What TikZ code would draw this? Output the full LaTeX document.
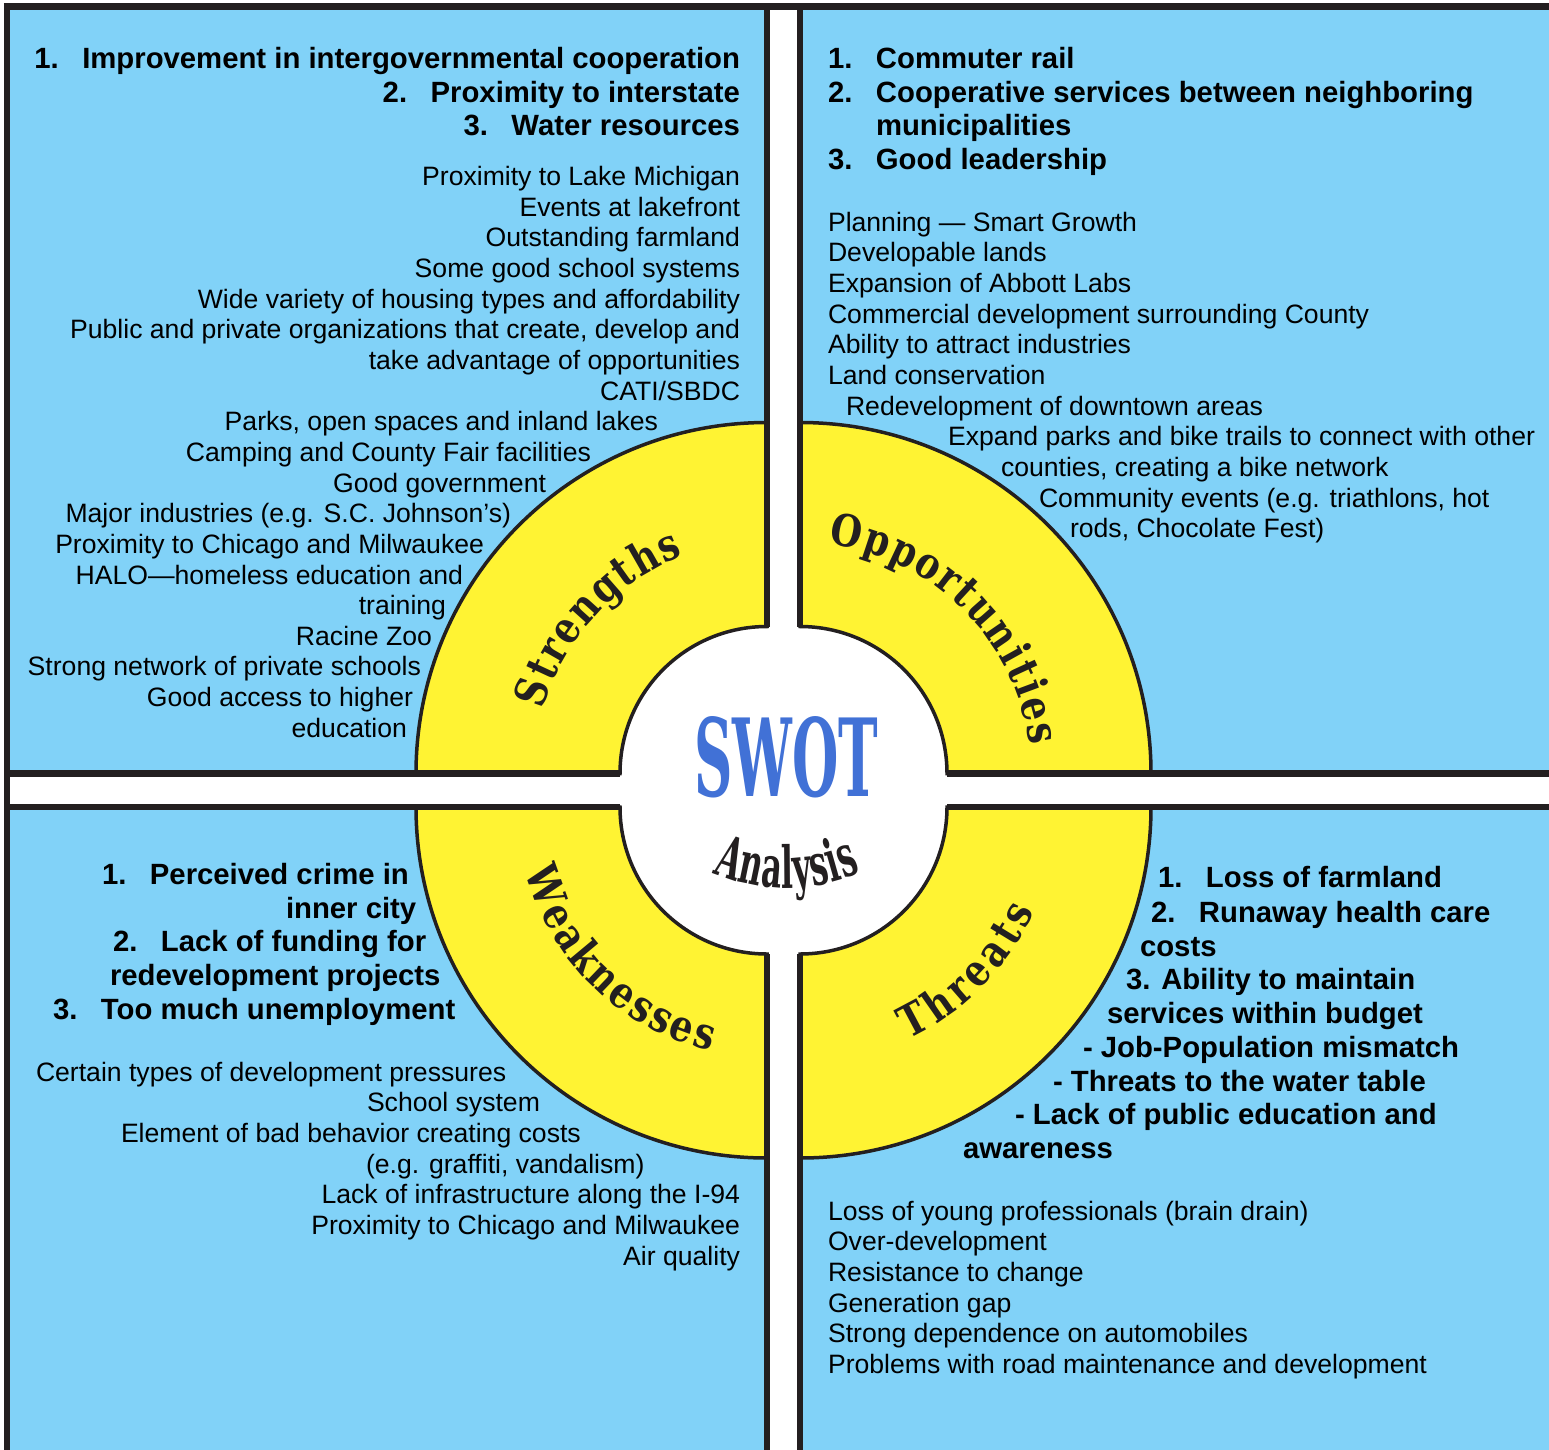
\documentclass[tikz,border=0pt]{standalone}
\usepackage{graphicx}
\usepackage{fontspec}
\setmainfont{Liberation Sans}
\newfontfamily\slabfont[FakeStretch=0.82]{DejaVu Serif}
\newfontfamily\swotfont{DejaVu Serif}
\newfontfamily\anfont[FakeStretch=0.55]{DejaVu Serif}
\usetikzlibrary{decorations.text}
\definecolor{qblue}{RGB}{129,210,248}
\definecolor{ryellow}{RGB}{255,243,51}
\definecolor{swotblue}{RGB}{65,113,214}
\definecolor{ink}{RGB}{35,31,32}
\begin{document}
\begin{tikzpicture}[x=1pt,y=-1pt,
  reg/.style={font=\fontsize{26.6}{30}\selectfont, inner sep=0pt, outer sep=0pt},
  bld/.style={font=\fontsize{29.3}{33}\selectfont\bfseries, inner sep=0pt, outer sep=0pt},
  frameline/.style={line width=6.5pt, draw=ink},
  ring/.style={fill=ryellow, draw=ink, line width=3.5pt},
  qfill/.style={fill=qblue},
  lbl/.style={decorate, decoration={text along path, text color=ink, text align=fit to path}}]
\useasboundingbox (0,0) rectangle (1549,1450);
\clip (0,0) rectangle (1549,1450);
\fill[white] (0,0) rectangle (1549,1450);
% corners
\coordinate (cTL) at (767,773.5);
\coordinate (cTR) at (800,773.5);
\coordinate (cBL) at (767,807);
\coordinate (cBR) at (800,807);
\coordinate (cAn) at (786,700);
% blue quadrants
\fill[qfill] (7,6.5) -- (767,6.5) -- (767,626.5) arc[start angle=270, end angle=180, radius=147] -- (7,773.5) -- cycle;
\fill[qfill] (800,6.5) -- (1560,6.5) -- (1560,773.5) -- (947,773.5) arc[start angle=0, end angle=-90, radius=147] -- cycle;
\fill[qfill] (7,807) -- (620,807) arc[start angle=180, end angle=90, radius=147] -- (767,1460) -- (7,1460) -- cycle;
\fill[qfill] (947,807) -- (1560,807) -- (1560,1460) -- (800,1460) -- (800,954) arc[start angle=90, end angle=0, radius=147] -- cycle;
% yellow quarter rings
\filldraw[ring] (416,773.5) arc[start angle=180, end angle=270, radius=351] -- (767,626.5) arc[start angle=270, end angle=180, radius=147] -- cycle;
\filldraw[ring] (800,422.5) arc[start angle=270, end angle=360, radius=351] -- (947,773.5) arc[start angle=0, end angle=-90, radius=147] -- cycle;
\filldraw[ring] (416,807) arc[start angle=180, end angle=90, radius=351] -- (767,954) arc[start angle=90, end angle=180, radius=147] -- cycle;
\filldraw[ring] (1151,807) arc[start angle=0, end angle=90, radius=351] -- (800,954) arc[start angle=90, end angle=0, radius=147] -- cycle;
% frame lines
\draw[frameline] (3.75,6.5) -- (1560,6.5);
\draw[frameline] (7,3.25) -- (7,1460);
\draw[frameline] (767,6.5) -- (767,626.5);
\draw[frameline] (7,773.5) -- (620,773.5);
\draw[frameline] (800,6.5) -- (800,626.5);
\draw[frameline] (947,773.5) -- (1560,773.5);
\draw[frameline] (7,807) -- (620,807);
\draw[frameline] (767,954) -- (767,1460);
\draw[frameline] (947,807) -- (1560,807);
\draw[frameline] (800,954) -- (800,1460);
% ring labels
\path[lbl, decoration={text={|\slabfont\bfseries\fontsize{44}{44}\selectfont|Strengths}}] ([shift={(196:233)}]cTL) arc[start angle=196, end angle=249, radius=233];
\path[lbl, decoration={text={|\slabfont\bfseries\fontsize{44}{44}\selectfont|Opportunities}}] ([shift={(277:231)}]cTR) arc[start angle=277, end angle=353, radius=231];
\path[lbl, decoration={text={|\slabfont\bfseries\fontsize{44}{44}\selectfont|Weaknesses}}] ([shift={(165:250)}]cBL) arc[start angle=165, end angle=103, radius=250];
\path[lbl, decoration={text={|\slabfont\bfseries\fontsize{44}{44}\selectfont|Threats}}] ([shift={(65:256)}]cBR) arc[start angle=65, end angle=24, radius=256];
% centre
\node[inner sep=0pt, outer sep=0pt, anchor=base west, text=swotblue] (swot) at (694,796) {\resizebox{184pt}{80pt}{\swotfont\bfseries SWOT}};
\path[lbl, decoration={text={|\anfont\bfseries\fontsize{58}{58}\selectfont|Analysis}}] ([shift={(113:188)}]cAn) arc[start angle=113, end angle=66.5, radius=188];
% Strengths text
\begin{scope}[every node/.append style={anchor=base east}]
\node[bld] (s1) at (740,68.5) {1.\hspace{23.5pt}Improvement in intergovernmental cooperation};
\node[bld] (s2) at (740,102.5) {2.\hspace{23.5pt}Proximity to interstate};
\node[bld] (s3) at (740,135.5) {3.\hspace{23.5pt}Water resources};
\node[reg] (s4) at (740,185.5) {Proximity to Lake Michigan};
\node[reg] (s5) at (740,216.5) {Events at lakefront};
\node[reg] (s6) at (740,246.5) {Outstanding farmland};
\node[reg] (s7) at (740,277.5) {Some good school systems};
\node[reg] (s8) at (740,308.5) {Wide variety of housing types and affordability};
\node[reg] (s9) at (740,338.5) {Public and private organizations that create, develop and};
\node[reg] (s10) at (740,369.5) {take advantage of opportunities};
\node[reg] (s11) at (740,400.5) {CATI/SBDC};
\node[reg] (s12) at (658,430.5) {Parks, open spaces and inland lakes};
\node[reg] (s13) at (591,461.5) {Camping and County Fair facilities};
\node[reg] (s14) at (546,492.5) {Good government};
\node[reg] (s15) at (511,522.5) {Major industries (e.g. S.C. Johnson’s)};
\node[reg] (s16) at (484,553.5) {Proximity to Chicago and Milwaukee};
\node[reg] (s17) at (463,584.5) {HALO—homeless education and};
\node[reg] (s18) at (446,614.5) {training};
\node[reg] (s19) at (432,645.5) {Racine Zoo};
\node[reg] (s20) at (421,675.5) {Strong network of private schools};
\node[reg] (s21) at (413,706.5) {Good access to higher};
\node[reg] (s22) at (407,737.5) {education};
\end{scope}
% Opportunities text
\begin{scope}[every node/.append style={anchor=base west}]
\node[bld] (o1) at (828,68.5) {1.\hspace{23.5pt}Commuter rail};
\node[bld] (o2) at (828,102.5) {2.\hspace{23.5pt}Cooperative services between neighboring};
\node[bld] (o3) at (876,135.5) {municipalities};
\node[bld] (o4) at (828,169.5) {3.\hspace{23.5pt}Good leadership};
\node[reg] (o5) at (828,231.5) {Planning — Smart Growth};
\node[reg] (o6) at (828,261.5) {Developable lands};
\node[reg] (o7) at (828,292.5) {Expansion of Abbott Labs};
\node[reg] (o8) at (828,323.5) {Commercial development surrounding County};
\node[reg] (o9) at (828,353.5) {Ability to attract industries};
\node[reg] (o10) at (828,384.5) {Land conservation};
\node[reg] (o11) at (846,415.5) {Redevelopment of downtown areas};
\node[reg] (o12) at (948,445.5) {Expand parks and bike trails to connect with other};
\node[reg] (o13) at (1001,476.5) {counties, creating a bike network};
\node[reg] (o14) at (1039,507.5) {Community events (e.g. triathlons, hot};
\node[reg] (o15) at (1070,537.5) {rods, Chocolate Fest)};
% Weaknesses text
\node[bld] (w1) at (102,884.5) {1.\hspace{23.5pt}Perceived crime in};
\node[bld] (w2) at (286,918.5) {inner city};
\node[bld] (w3) at (113,951.5) {2.\hspace{23.5pt}Lack of funding for};
\node[bld] (w4) at (110,985.5) {redevelopment projects};
\node[bld] (w5) at (53,1019.5) {3.\hspace{23.5pt}Too much unemployment};
\node[reg] (w6) at (36,1081.5) {Certain types of development pressures};
\node[reg] (w7) at (367,1111.5) {School system};
\node[reg] (w8) at (121,1142.5) {Element of bad behavior creating costs};
\node[reg] (w9) at (366,1173.5) {(e.g. graffiti, vandalism)};
\node[reg, anchor=base east] (w10) at (740,1203.5) {Lack of infrastructure along the I-94};
\node[reg, anchor=base east] (w11) at (740,1234.5) {Proximity to Chicago and Milwaukee};
\node[reg, anchor=base east] (w12) at (740,1265.5) {Air quality};
% Threats text
\node[bld] (t1) at (1158,887.5) {1.\hspace{23.5pt}Loss of farmland};
\node[bld] (t2) at (1151,922.5) {2.\hspace{23.5pt}Runaway health care};
\node[bld] (t3) at (1140,956.5) {costs};
\node[bld] (t4) at (1126,989.5) {3. Ability to maintain};
\node[bld] (t5) at (1107,1023.5) {services within budget};
\node[bld] (t6) at (1083,1057.5) {- Job-Population mismatch};
\node[bld] (t7) at (1053,1091.5) {- Threats to the water table};
\node[bld] (t8) at (1015,1124.5) {- Lack of public education and};
\node[bld] (t9) at (963,1158.5) {awareness};
\node[reg] (t10) at (828,1220.5) {Loss of young professionals (brain drain)};
\node[reg] (t11) at (828,1250.5) {Over-development};
\node[reg] (t12) at (828,1281.5) {Resistance to change};
\node[reg] (t13) at (828,1312.5) {Generation gap};
\node[reg] (t14) at (828,1342.5) {Strong dependence on automobiles};
\node[reg] (t15) at (828,1373.5) {Problems with road maintenance and development};
\end{scope}
\end{tikzpicture}
\end{document}
